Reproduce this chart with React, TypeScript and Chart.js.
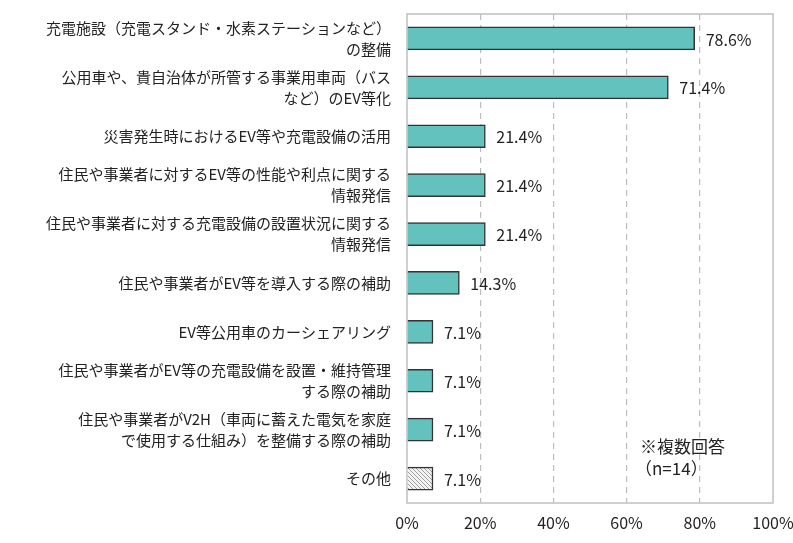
import React, { useEffect, useRef } from "react";
import { Chart, registerables } from "chart.js";

Chart.register(...registerables);

const categories: (string | string[])[] = [
  ["充電施設（充電スタンド・水素ステーションなど）", "の整備"],
  ["公用車や、貴自治体が所管する事業用車両（バス", "など）のEV等化"],
  "災害発生時におけるEV等や充電設備の活用",
  ["住民や事業者に対するEV等の性能や利点に関する", "情報発信"],
  ["住民や事業者に対する充電設備の設置状況に関する", "情報発信"],
  "住民や事業者がEV等を導入する際の補助",
  "EV等公用車のカーシェアリング",
  ["住民や事業者がEV等の充電設備を設置・維持管理", "する際の補助"],
  ["住民や事業者がV2H（車両に蓄えた電気を家庭", "で使用する仕組み）を整備する際の補助"],
  "その他",
];
const values: number[] = [78.6, 71.4, 21.4, 21.4, 21.4, 14.3, 7.1, 7.1, 7.1, 7.1];
const xTicks: number[] = [0, 20, 40, 60, 80, 100];
const noteLines: string[] = ["※複数回答", "（n=14）"];

const FONT = "'Noto Sans CJK JP', 'Noto Sans', sans-serif";

function makeHatch(): CanvasPattern | string {
  const c = document.createElement("canvas");
  c.width = 4;
  c.height = 4;
  const ctx = c.getContext("2d");
  if (!ctx) return "#ddd";
  ctx.fillStyle = "#f4f4f4";
  ctx.fillRect(0, 0, 4, 4);
  ctx.strokeStyle = "#a0a0a0";
  ctx.lineWidth = 1;
  ctx.beginPath();
  ctx.moveTo(-1, -1);
  ctx.lineTo(5, 5);
  ctx.moveTo(-1, 3);
  ctx.lineTo(1, 5);
  ctx.moveTo(3, -1);
  ctx.lineTo(5, 1);
  ctx.stroke();
  return ctx.createPattern(c, "repeat") || "#ddd";
}

export default function App() {
  const ref = useRef<HTMLCanvasElement>(null);
  useEffect(() => {
    document.body.style.margin = "0";
    if (!ref.current) return;
    const hatch = makeHatch();
    const teal = "#63c2bd";
    const colors = values.map((_, i) => (i === values.length - 1 ? hatch : teal));

    const framePlugin = {
      id: "frame",
      beforeDatasetsDraw(chart: any) {
        const { ctx, chartArea } = chart;
        ctx.save();
        ctx.strokeStyle = "#c0c0c0";
        ctx.lineWidth = 1.5;
        ctx.strokeRect(chartArea.left, chartArea.top, chartArea.right - chartArea.left, chartArea.bottom - chartArea.top);
        ctx.restore();
      },
    };

    const labelPlugin = {
      id: "valueLabels",
      afterDatasetsDraw(chart: any) {
        const { ctx, chartArea } = chart;
        const meta = chart.getDatasetMeta(0);
        ctx.save();
        ctx.fillStyle = "#222";
        ctx.font = `16px ${FONT}`;
        ctx.textAlign = "left";
        ctx.textBaseline = "middle";
        meta.data.forEach((bar: any, i: number) => {
          ctx.fillText(`${values[i].toFixed(1)}%`, bar.x + 11, bar.y + 1);
        });
        ctx.font = `17px ${FONT}`;
        ctx.fillText(noteLines[0], chartArea.left + 233, chartArea.top + 433);
        ctx.fillText(noteLines[1], chartArea.left + 228, chartArea.top + 455);
        ctx.restore();
      },
    };

    const chart = new Chart(ref.current, {
      type: "bar",
      data: {
        labels: categories,
        datasets: [
          {
            data: values,
            backgroundColor: colors as any,
            borderColor: "#333",
            borderWidth: 1.5,
            barThickness: 23,
          },
        ],
      },
      options: {
        indexAxis: "y",
        animation: false,
        responsive: false,
        maintainAspectRatio: false,
        layout: { padding: { left: 0, right: 20, top: 14, bottom: 0 } },
        plugins: { legend: { display: false }, tooltip: { enabled: false } },
        scales: {
          x: {
            min: 0,
            max: 100,
            afterBuildTicks(scale: any) {
              scale.ticks = xTicks.map((v) => ({ value: v }));
            },
            afterFit(scale: any) {
              scale.height = 40;
              scale.paddingLeft = 0;
              scale.paddingRight = 0;
            },
            ticks: {
              callback: (v: any) => `${v}%`,
              color: "#222",
              font: { family: FONT, size: 16 },
              padding: 10,
              maxRotation: 0,
            },
            grid: {
              drawTicks: false,
              color: (c: any) => (c.tick && (c.tick.value === 0 || c.tick.value === 100) ? "rgba(0,0,0,0)" : "#bdbdbd"),
              lineWidth: 1.2,
            },
            border: { display: false, dash: [6, 5] },
          },
          y: {
            afterFit(scale: any) {
              scale.width = 407;
              scale.paddingTop = 0;
              scale.paddingBottom = 0;
            },
            ticks: {
              color: "#222",
              font: { family: FONT, size: 15, lineHeight: 1.4 },
              padding: 8,
              crossAlign: "near",
            },
            grid: { display: false },
            border: { display: false },
          },
        },
      },
      plugins: [framePlugin, labelPlugin],
    });
    return () => chart.destroy();
  }, []);
  return (
    <div style={{ width: 793, height: 543 }}>
      <canvas ref={ref} width={793} height={543} />
    </div>
  );
}
